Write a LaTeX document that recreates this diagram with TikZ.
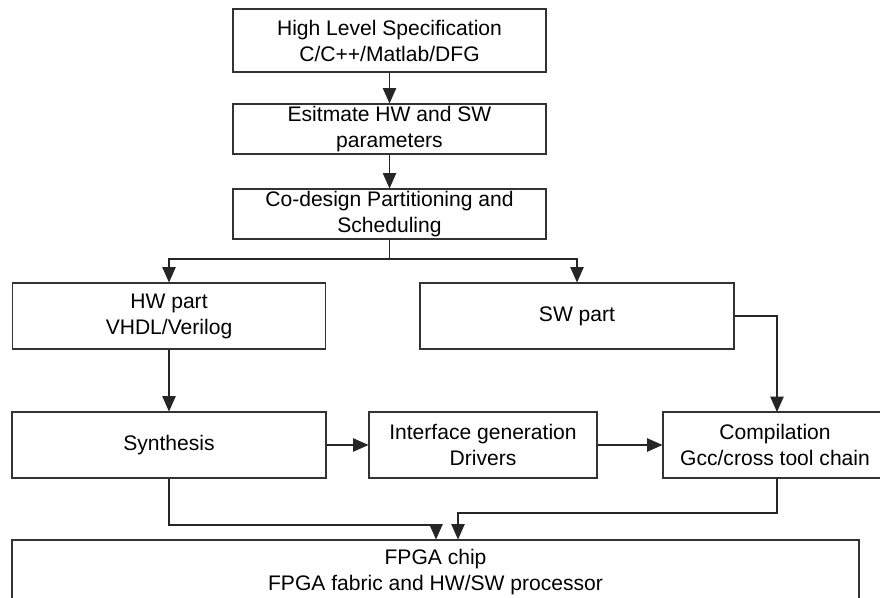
\documentclass[tikz,border=0pt]{standalone}
\usepackage{fontspec}
\setmainfont{Liberation Sans}
\usetikzlibrary{arrows.meta}

\begin{document}
\begin{tikzpicture}[x=0.75pt, y=-0.75pt,
  box/.style={draw=black!80, line width=0.8pt, rectangle, inner sep=0pt,
    align=center, font=\fontsize{15.8}{19.5}\selectfont},
  flow/.style={draw=black!85, line width=0.8pt,
    -{Triangle[length=11.5pt, width=10pt]}},
  plain/.style={draw=black!85, line width=0.8pt}
]
\useasboundingbox (0,0) rectangle (880,598);
\clip (0,0) rectangle (880,598);

% top chain of the flow
\node[box, minimum width=234.75pt, minimum height=47.25pt] (spec) at (389.5,40.5)
  {High Level Specification\\C/C++/Matlab/DFG};
\node[box, minimum width=234.75pt, minimum height=37.5pt] (est) at (389.5,129)
  {Esitmate HW and SW\\parameters};
\node[box, minimum width=234.75pt, minimum height=37.5pt] (part) at (389.5,214)
  {Co-design Partitioning and\\Scheduling};

% hardware / software split
\node[box, minimum width=234.75pt, minimum height=49.5pt] (hw) at (169,316)
  {HW part\\VHDL/Verilog};
\node[box, minimum width=235.5pt, minimum height=49.5pt] (sw) at (577,316)
  {SW part};

% tool stage
\node[box, minimum width=235.5pt, minimum height=49.5pt] (syn) at (169,445)
  {Synthesis};
\node[box, minimum width=171pt, minimum height=49.5pt] (intf) at (483,445)
  {Interface generation\\Drivers};
\node[box, minimum width=168pt, minimum height=49.5pt] (comp) at (775,445)
  {Compilation\\Gcc/cross tool chain};

% target
\node[box, minimum width=635.25pt, minimum height=48pt] (fpga) at (435.5,572)
  {FPGA chip\\FPGA fabric and HW/SW processor};

% routing points
\coordinate (split) at (389.5,259);
\coordinate (hwin) at (169,259);
\coordinate (swin) at (577,259);
\coordinate (swturn) at (777,316);
\coordinate (compin) at (777,412);
\coordinate (compout) at (777,478);
\coordinate (syndown) at (169,525);
\coordinate (fpgaA) at (436,525);
\coordinate (compdown) at (777,513);
\coordinate (fpgaB) at (458,513);

\draw[flow] (spec) -- (est);
\draw[flow] (est) -- (part);
\draw[plain] (part.south) -- (split);
\draw[flow] (split) -- (hwin) -- (hw.north);
\draw[flow] (split) -- (swin) -- (sw.north);
\draw[flow] (hw) -- (syn);
\draw[flow] (sw.east) -- (swturn) -- (compin);
\draw[flow] (syn) -- (intf);
\draw[flow] (intf) -- (comp);
\draw[flow] (syn.south) -- (syndown) -- (fpgaA) -- (fpgaA |- fpga.north);
\draw[flow] (compout) -- (compdown) -- (fpgaB) -- (fpgaB |- fpga.north);
\end{tikzpicture}
\end{document}
